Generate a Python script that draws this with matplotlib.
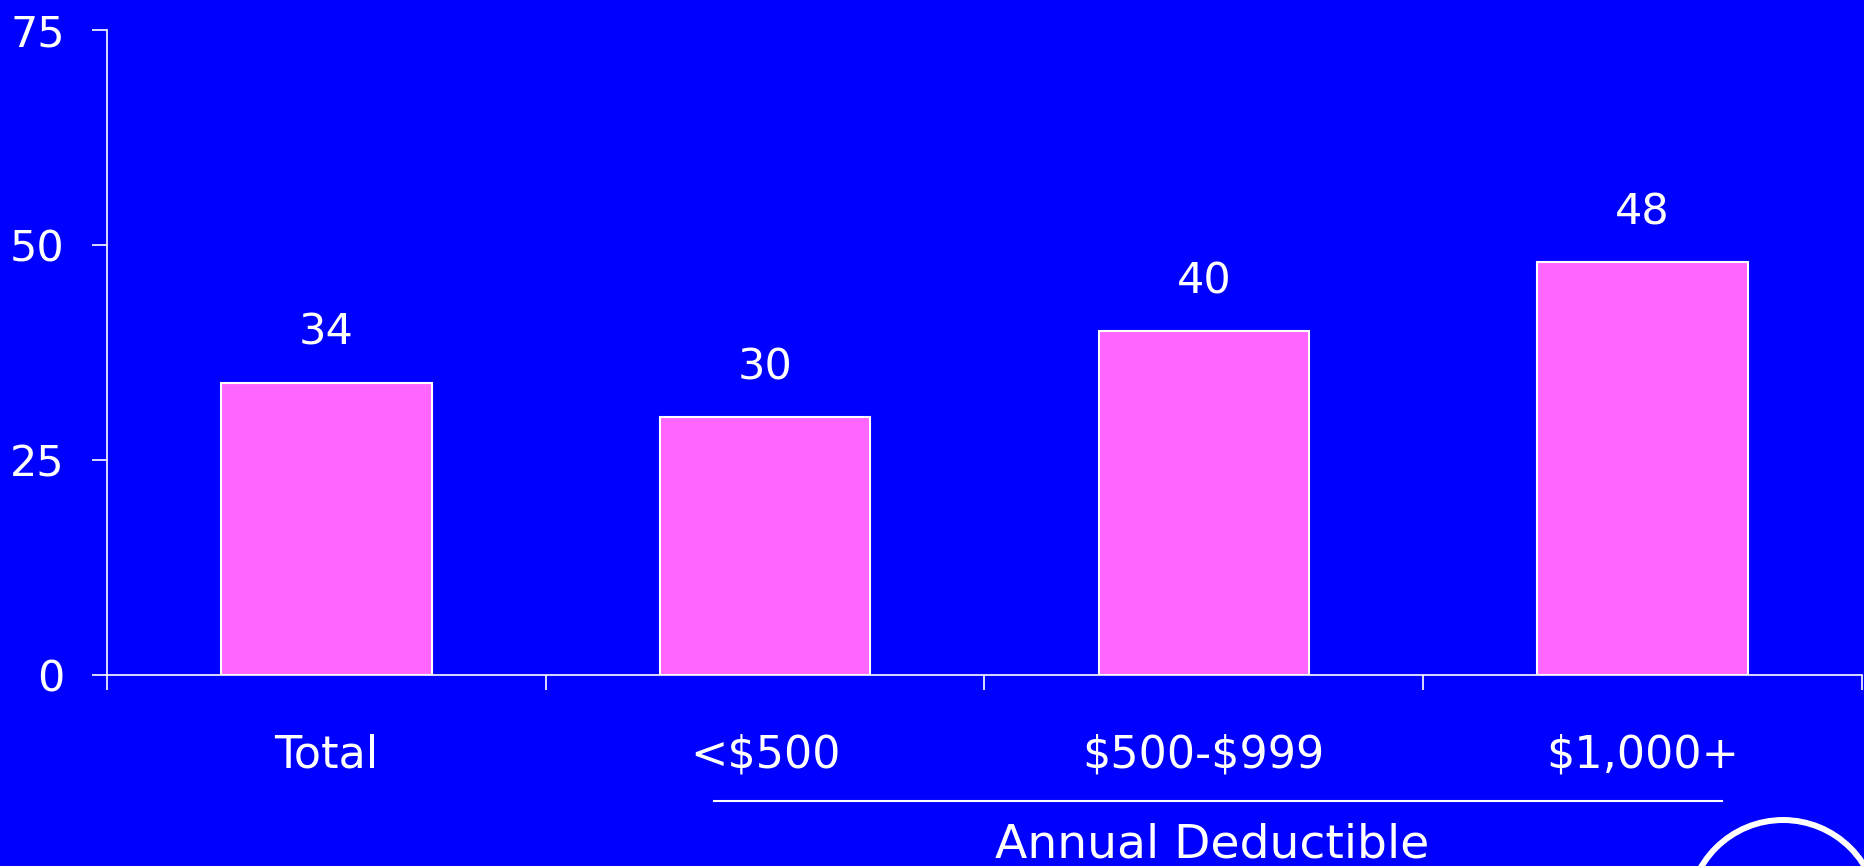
import numpy as np
import matplotlib
matplotlib.use("Agg")
import matplotlib.pyplot as plt
from matplotlib.patches import Ellipse

# Share of workers (percent) by annual deductible
categories = ["Total", "<$500", "$500-$999", "$1,000+"]
values = [34, 30, 40, 48]
y_ticks = [0, 25, 50, 75]
group_label = "Annual Deductible"

BG = "#0000FF"
BAR = "#FF66FF"
FG = "white"

plt.rcParams['font.family'] = ['DejaVu Sans']
plt.rcParams['text.parse_math'] = False  #labels contain "$"

fig = plt.figure(figsize=(18.64, 8.66), dpi=100, facecolor=BG)
ax = fig.add_axes([0.0574, 0.22, 0.9415, 0.7454])
ax.set_facecolor(BG)

x = np.arange(len(categories))
bars = ax.bar(x, values, width=0.48, color=BAR, edgecolor=FG, linewidth=1.5, zorder=2)

#value labels above bars
for xi, v in zip(x, values):
    ax.annotate(str(v), (xi, v), xytext=(0, 27.5), textcoords="offset points",
                ha="center", va="baseline", color=FG, fontsize=31)

ax.set_xlim(-0.5, len(categories) - 0.5)
ax.set_ylim(0, 75)

for side in ["top", "right"]:
    ax.spines[side].set_visible(False)
for side in ["left", "bottom"]:
    ax.spines[side].set_color(FG)
    ax.spines[side].set_linewidth(1.2)

ax.set_yticks(y_ticks)
ax.tick_params(axis="y", length=10.8, width=1.2, colors=FG, pad=19.5, labelsize=31)

#category labels at centres, tick marks at the boundaries
ax.set_xticks(x)
ax.set_xticklabels(categories)
ax.set_xticks(np.arange(len(categories) + 1) - 0.5, minor=True)
ax.tick_params(axis="x", which="major", length=0, colors=FG, pad=42, labelsize=32)
ax.tick_params(axis="x", which="minor", length=10.8, width=1.2, color=FG)

#bracket line and group label under the deductible categories
trans = ax.get_xaxis_transform()
ax.plot([0.883, 3.18], [-0.1944, -0.1944], transform=trans, clip_on=False, color=FG, lw=1.5)
ax.text(2.02, -0.2827, group_label, transform=trans, ha="center", va="baseline",
        color=FG, fontsize=34)

#logo ring in the corner
fig.add_artist(Ellipse((0.9566, -0.0566), 0.1019, 0.2194, transform=fig.transFigure,
                       fill=False, edgecolor=FG, linewidth=4.3))

fig.savefig("out.png", dpi=100, facecolor=fig.get_facecolor())
